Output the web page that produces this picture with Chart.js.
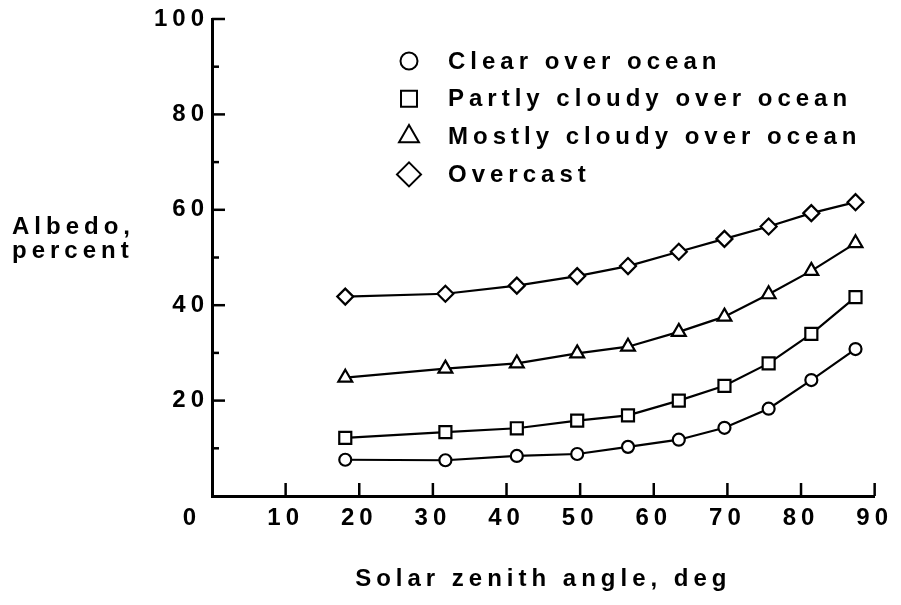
<!DOCTYPE html>
<html>
<head>
<meta charset="utf-8">
<script src="https://cdn.jsdelivr.net/npm/chart.js@4.4.1/dist/chart.umd.min.js"></script>
<style>
  html, body { margin: 0; padding: 0; background: #fff; }
  canvas { display: block; }
</style>
</head>
<body>
<canvas id="albedo" width="901" height="605"></canvas>
<script>
// Solar zenith angle (deg) shared by all four curves
const zenithAngles = [18.1, 31.7, 41.4, 49.6, 56.5, 63.4, 69.6, 75.6, 81.4, 87.4];

// Albedo, percent
const clearOcean        = [7.6, 7.5, 8.4, 8.8, 10.3, 11.8, 14.3, 18.3, 24.3, 30.8];
const partlyCloudyOcean = [12.2, 13.4, 14.2, 15.8, 16.9, 20.0, 23.1, 27.8, 34.0, 41.7];
const mostlyCloudyOcean = [24.8, 26.7, 27.8, 29.9, 31.3, 34.4, 37.6, 42.3, 47.2, 53.0];
const overcast          = [41.8, 42.4, 44.1, 46.1, 48.2, 51.2, 53.9, 56.5, 59.3, 61.6];

const seriesLabels = ['Clear over ocean', 'Partly cloudy over ocean', 'Mostly cloudy over ocean', 'Overcast'];
const seriesMarkers = ['circle', 'rect', 'triangle', 'rectRot'];

// Axis ticks and text
const xTickLabels = ['10', '20', '30', '40', '50', '60', '70', '80', '90'];
const yTickLabels = ['20', '40', '60', '80', '100'];
const originLabel = '0';
const xTitle = 'Solar zenith angle, deg';
const yTitleLines = ['Albedo,', 'percent'];

const FONT_FAMILY = '"Liberation Sans", Arial, Helvetica, sans-serif';
const FONT_SIZE = 24;
const SPACING = '5px';
const INK = '#000';

Chart.defaults.font.family = FONT_FAMILY;
Chart.defaults.font.size = FONT_SIZE;
Chart.defaults.font.weight = 'bold';
Chart.defaults.color = INK;

const plotRadius = [6, 8.5, 8, 8];
const legendRadius = [8.5, 11.3, 11.5, 12];

function toPoints(values) {
  return values.map((v, i) => ({ x: zenithAngles[i], y: v }));
}

const seriesValues = [clearOcean, partlyCloudyOcean, mostlyCloudyOcean, overcast];

const datasets = seriesValues.map((vals, i) => ({
  label: seriesLabels[i],
  data: toPoints(vals),
  borderColor: INK,
  borderWidth: 2.2,
  tension: 0,
  fill: false,
  pointStyle: seriesMarkers[i],
  pointRadius: plotRadius[i],
  pointHoverRadius: plotRadius[i],
  pointBackgroundColor: '#fff',
  pointBorderColor: INK,
  pointBorderWidth: 2.2,
  order: 3 - i
}));

// Wide letter spacing for every piece of text on the canvas
const letterSpacingPlugin = {
  id: 'letterSpacing',
  beforeLayout(chart) { chart.ctx.letterSpacing = SPACING; },
  beforeDraw(chart) { chart.ctx.letterSpacing = SPACING; }
};

// Inward tick marks, shared origin label and the two-line y title
const axisMarksPlugin = {
  id: 'axisMarks',
  afterDraw(chart) {
    const { ctx } = chart;
    const xs = chart.scales.x, ys = chart.scales.y;
    const x0 = xs.getPixelForValue(0);
    const y0 = ys.getPixelForValue(0);
    ctx.save();
    ctx.strokeStyle = INK;
    ctx.lineWidth = 2.5;
    ctx.lineCap = 'butt';
    ys.ticks.forEach(t => {
      if (t.value <= 0) return;
      const py = ys.getPixelForValue(t.value);
      const len = t.value % 20 === 0 ? 13 : 7;
      ctx.beginPath();
      ctx.moveTo(x0, py);
      ctx.lineTo(x0 + len, py);
      ctx.stroke();
    });
    xs.ticks.forEach(t => {
      if (t.value <= 0) return;
      const px = xs.getPixelForValue(t.value);
      ctx.beginPath();
      ctx.moveTo(px, y0);
      ctx.lineTo(px, y0 - 13);
      ctx.stroke();
    });

    ctx.letterSpacing = SPACING;
    ctx.fillStyle = INK;
    ctx.font = `bold ${FONT_SIZE}px ${FONT_FAMILY}`;
    ctx.textAlign = 'center';
    ctx.textBaseline = 'middle';
    ctx.fillText(originLabel, x0 - 20, y0 + 22);

    ctx.textAlign = 'left';
    ctx.textBaseline = 'alphabetic';
    yTitleLines.forEach((line, i) => ctx.fillText(line, 12, 234 + i * 24));
    ctx.restore();
  }
};

// Marker key in the upper part of the plot
const keyPlugin = {
  id: 'markerKey',
  afterDraw(chart) {
    const { ctx } = chart;
    ctx.save();
    ctx.letterSpacing = SPACING;
    ctx.font = `bold ${FONT_SIZE}px ${FONT_FAMILY}`;
    ctx.textAlign = 'left';
    ctx.textBaseline = 'middle';
    chart.data.datasets.forEach((ds, i) => {
      const cy = 61 + i * 37.8;
      ctx.fillStyle = '#fff';
      ctx.strokeStyle = INK;
      ctx.lineWidth = 2;
      Chart.helpers.drawPoint(ctx, {
        pointStyle: ds.pointStyle,
        radius: legendRadius[i],
        rotation: 0,
        borderWidth: 2
      }, 409, cy);
      ctx.fillStyle = INK;
      ctx.fillText(ds.label, 448, cy + 1);
    });
    ctx.restore();
  }
};

new Chart(document.getElementById('albedo'), {
  type: 'line',
  data: { datasets },
  options: {
    responsive: false,
    animation: false,
    devicePixelRatio: 1,
    layout: { padding: { left: 0, top: 19, right: 22, bottom: 0 } },
    plugins: {
      legend: { display: false },
      tooltip: { enabled: false }
    },
    scales: {
      x: {
        type: 'linear',
        min: 0,
        max: 90,
        afterFit(scale) { scale.height = 109; },
        afterBuildTicks(scale) {
          scale.ticks = [{ value: 0 }].concat(xTickLabels.map(l => ({ value: Number(l) })));
        },
        ticks: {
          padding: 8,
          autoSkip: false,
          maxRotation: 0,
          callback: (v) => (xTickLabels.includes(String(v)) ? String(v) : '')
        },
        grid: { display: true, drawOnChartArea: false, drawTicks: false },
        border: { display: true, color: INK, width: 3 },
        title: {
          display: true,
          text: xTitle,
          padding: { top: 0, bottom: 11 }
        }
      },
      y: {
        type: 'linear',
        min: 0,
        max: 100,
        afterFit(scale) { scale.width = 212; },
        ticks: {
          stepSize: 10,
          padding: 3,
          autoSkip: false,
          callback: (v) => (yTickLabels.includes(String(v)) ? String(v) : '')
        },
        grid: { display: true, drawOnChartArea: false, drawTicks: false },
        border: { display: true, color: INK, width: 3 }
      }
    }
  },
  plugins: [letterSpacingPlugin, axisMarksPlugin, keyPlugin]
});
</script>
</body>
</html>
